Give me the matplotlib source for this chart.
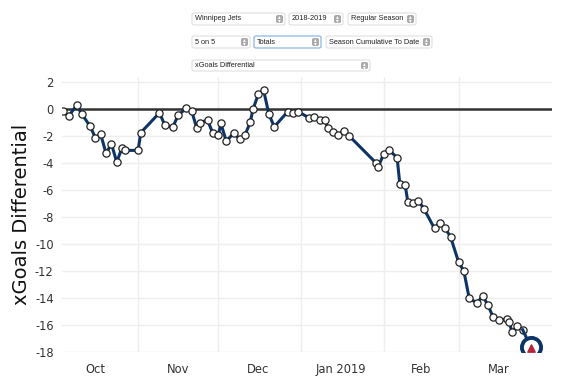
import matplotlib
matplotlib.use("Agg")
import matplotlib.pyplot as plt
from matplotlib.patches import FancyBboxPatch
import pandas as pd

W, H = 575, 382

# cumulative 5on5 xGoals differential
game_dates = [
    "2018-10-04", "2018-10-06", "2018-10-09", "2018-10-11", "2018-10-14", "2018-10-16",
    "2018-10-18", "2018-10-20", "2018-10-22", "2018-10-24", "2018-10-26", "2018-10-27",
    "2018-11-01", "2018-11-02", "2018-11-09", "2018-11-11", "2018-11-14", "2018-11-16",
    "2018-11-19", "2018-11-21", "2018-11-23", "2018-11-24", "2018-11-27", "2018-11-29",
    "2018-12-01", "2018-12-02", "2018-12-04", "2018-12-07", "2018-12-09", "2018-12-11",
    "2018-12-13", "2018-12-14", "2018-12-16", "2018-12-18", "2018-12-20", "2018-12-22",
    "2018-12-27", "2018-12-29", "2018-12-31", "2019-01-04", "2019-01-06", "2019-01-08",
    "2019-01-10", "2019-01-11", "2019-01-13", "2019-01-15", "2019-01-17", "2019-01-19",
    "2019-01-29", "2019-01-30", "2019-02-01", "2019-02-03", "2019-02-06", "2019-02-07",
    "2019-02-09", "2019-02-10", "2019-02-12", "2019-02-14", "2019-02-16", "2019-02-20",
    "2019-02-22", "2019-02-24", "2019-02-26", "2019-03-01", "2019-03-03", "2019-03-05",
    "2019-03-08", "2019-03-10", "2019-03-12", "2019-03-14", "2019-03-16", "2019-03-19",
    "2019-03-20", "2019-03-21", "2019-03-23", "2019-03-25", "2019-03-28",
]
xg_diff = [
    -0.20, -0.55, 0.27, -0.42, -1.28, -2.14,
    -1.90, -3.30, -2.60, -3.94, -2.88, -3.08,
    -3.08, -1.77, -0.30, -1.21, -1.36, -0.47,
    0.02, -0.13, -1.45, -1.03, -0.84, -1.82,
    -1.97, -1.09, -2.39, -1.77, -2.27, -1.97,
    -0.99, -0.05, 1.06, 1.37, -0.42, -1.33,
    -0.22, -0.30, -0.22, -0.67, -0.59, -0.80,
    -0.80, -1.45, -1.72, -1.92, -1.65, -2.00,
    -3.99, -4.28, -3.32, -3.05, -3.62, -5.54,
    -5.64, -6.87, -7.00, -6.82, -7.39, -8.86,
    -8.42, -8.84, -9.48, -11.33, -12.02, -14.03,
    -14.38, -13.84, -14.53, -15.44, -15.64, -15.56,
    -15.76, -16.54, -16.10, -16.35, -17.60,
]
month_starts = ["2018-11-01", "2018-12-01", "2019-01-01", "2019-02-01", "2019-03-01"]
month_mids = ["2018-10-16", "2018-11-16", "2018-12-16", "2019-01-16", "2019-02-15", "2019-03-16"]
month_labels = ["Oct", "Nov", "Dec", "Jan 2019", "Feb", "Mar"]
yticks = list(range(2, -19, -2))

# dropdowns: (label, left px, right px, top px, bottom px)
dropdowns = [
    ("Winnipeg Jets", 192, 285, 13, 25),
    ("2018-2019", 289, 343, 13, 25),
    ("Regular Season", 348, 416, 13, 25),
    ("5 on 5", 192, 250, 36, 48),
    ("Totals", 254, 321, 36, 48),
    ("Season Cumulative To Date", 326, 432, 36, 48),
    ("xGoals Differential", 192, 370, 60, 71),
]

navy = "#0d3466"

fig = plt.figure(figsize=(W / 100, H / 100), dpi=100)
ax = fig.add_axes([62 / W, 1 - 352 / H, (552 - 62) / W, (352 - 77) / H])

x = pd.to_datetime(game_dates)
ax.plot(x[:-1], xg_diff[:-1], color=navy, lw=2.2, zorder=3,
        marker="o", ms=5.2, mfc="white", mec="#222222", mew=0.9)
ax.plot(x[-2:], xg_diff[-2:], color=navy, lw=2.2, zorder=3)
# last game drawn as the team badge
ax.scatter(x[-1:], xg_diff[-1:], s=190, facecolor="white", edgecolor=navy,
           linewidth=2.8, zorder=5)
ax.scatter(x[-1:], [xg_diff[-1] - 0.1], s=28, marker="^", color="#b5243a", zorder=6)

ax.axhline(0, color="#333333", lw=1.8, zorder=2)

ax.set_ylim(-18, 2.35)
ax.set_xlim(pd.Timestamp("2018-10-03 12:00"), pd.Timestamp("2019-04-05"))
ax.set_yticks(yticks)
ax.set_yticklabels([str(v) for v in yticks], fontsize=8.3, color="#333333")
ax.set_xticks(pd.to_datetime(month_starts))
ax.set_xticklabels([""] * len(month_starts))
ax.set_xticks(pd.to_datetime(month_mids), minor=True)
ax.set_xticklabels(month_labels, minor=True, fontsize=8.3, color="#333333")
ax.tick_params(axis="both", which="both", length=0)
ax.tick_params(axis="x", which="minor", pad=8)
ax.tick_params(axis="y", pad=6)
ax.grid(True, which="major", color="#eeeeee", lw=1, zorder=0)
for s in ax.spines.values():
    s.set_visible(False)
ax.set_ylabel("xGoals Differential", fontsize=14, color="#111111", labelpad=3)

# dropdown menus above the chart
for label, x0, x1, y0, y1 in dropdowns:
    edge = "#8fb4e6" if label == "Totals" else "#d6d6d6"
    fig.add_artist(FancyBboxPatch((x0 / W, 1 - y1 / H), (x1 - x0) / W, (y1 - y0) / H,
                                  boxstyle="round,pad=0,rounding_size=0.004",
                                  transform=fig.transFigure, facecolor="white",
                                  edgecolor=edge, lw=0.9 if label == "Totals" else 0.6))
    fig.text((x0 + 3) / W, 1 - (y0 + y1) / 2 / H, label, fontsize=5.3,
             family="Liberation Sans", va="center", ha="left", color="#222222")
    bx = x1 - 9
    fig.add_artist(FancyBboxPatch((bx / W, 1 - (y1 - 2) / H), 7 / W, (y1 - y0 - 4) / H,
                                  boxstyle="round,pad=0,rounding_size=0.004",
                                  transform=fig.transFigure, facecolor="#a9a9a9",
                                  edgecolor="none"))
    yc = 1 - (y0 + y1) / 2 / H
    fig.text((bx + 3.5) / W, yc + 2 / H, "\u25b4", fontsize=4, color="white",
             ha="center", va="center")
    fig.text((bx + 3.5) / W, yc - 2 / H, "\u25be", fontsize=4, color="white",
             ha="center", va="center")

fig.savefig("out.png", dpi=100)
